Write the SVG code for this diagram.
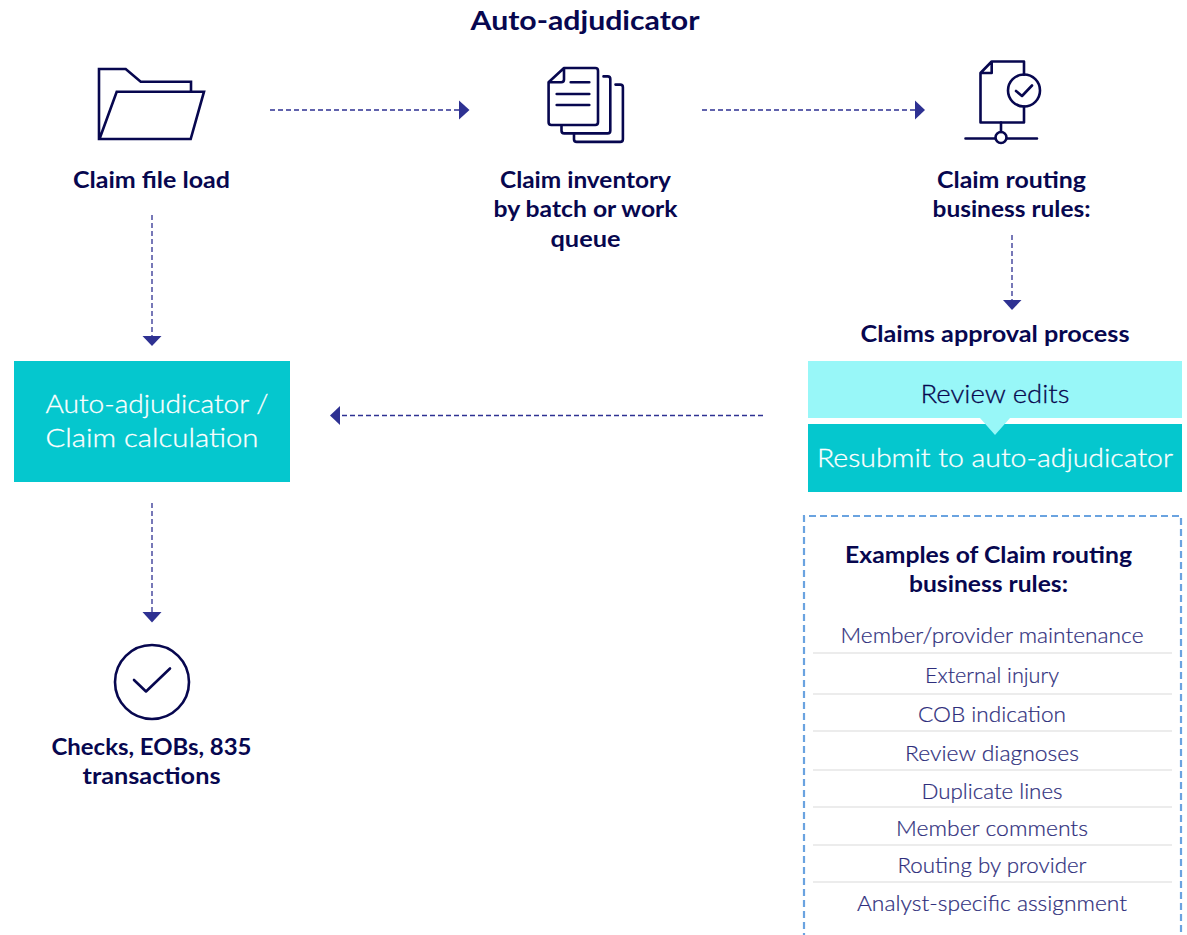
<svg xmlns="http://www.w3.org/2000/svg" width="1187" height="935" viewBox="0 0 1187 935">
<style>
text{font-family:"Lato","Liberation Sans",sans-serif}
.t{font-weight:700;font-size:22px;fill:#07074f;text-anchor:middle}
.b{font-size:26px;font-weight:300;text-anchor:middle;stroke-width:.3px}
.l{font-size:21px;font-weight:300;fill:#2e2e7c;stroke:#2e2e7c;stroke-width:.2px;text-anchor:middle}
.i{fill:none;stroke:#07074f;stroke-width:2.600;stroke-linejoin:round;stroke-linecap:round}
.c{fill:none;stroke:#2e3192;stroke-width:1.300;stroke-dasharray:5 3}
.h{fill:#2e3192}
.s{stroke:#ececec;stroke-width:2}
</style>
<rect width="1187" height="935" fill="#fff"/>
<text id="title" class="t" x="585" y="30" style="font-size:26px" textLength="229" lengthAdjust="spacingAndGlyphs">Auto-adjudicator</text>
<g id="connectors">
<path class="c" d="M270 110H460"/><path class="h" d="M459 100.500L469.500 110L459 119.500Z"/>
<path class="c" d="M702 110H915"/><path class="h" d="M915 100.500L925 110L915 119.500Z"/>
<path class="c" d="M152 215V336"/><path class="h" d="M142.500 336H161.500L152 346Z"/>
<path class="c" d="M1012 235V300"/><path class="h" d="M1003 300H1021.500L1012 310Z"/>
<path class="c" d="M763 415.500H340"/><path class="h" d="M340 406V425L330 415.500Z"/>
<path class="c" d="M152 503V612"/><path class="h" d="M142.500 612H161.500L152 622.500Z"/>
</g>
<g id="node-claim-file-load">
<path class="i" style="stroke-linecap:butt;stroke-linejoin:miter" d="M191 91.700V81.700H140.700L125.700 69H99V139H190.700L204 91.700H116.700L99.500 139"/>
<text class="t" x="151.500" y="188" textLength="157" lengthAdjust="spacingAndGlyphs">Claim file load</text>
</g>
<g id="node-claim-inventory">
<path class="i" d="M564 68H595.300Q598 68 598 70.700V122.300Q598 125 595.300 125H551.300Q548.600 125 548.600 122.300V82.200ZM564 68V79.500Q564 82.200 561.300 82.200H548.600M570.700 82.200H589.300M556.700 94H589.300M556.700 105H589.300"/>
<path class="i" d="M603.500 76.400H607.600Q610.300 76.400 610.300 79.100V130.700Q610.300 133.400 607.600 133.400H564.200Q561.500 133.400 561.500 130.700V125.500"/>
<path class="i" d="M615.500 84.600H620.200Q622.900 84.600 622.900 87.300V139.200Q622.900 141.900 620.200 141.900H576.700Q574 141.900 574 139.200V134"/>
<text class="t" x="585.500" y="188" textLength="171" lengthAdjust="spacingAndGlyphs">Claim inventory</text>
<text class="t" x="585.500" y="217" textLength="184" lengthAdjust="spacingAndGlyphs">by batch or work</text>
<text class="t" x="585.500" y="247" textLength="70" lengthAdjust="spacingAndGlyphs">queue</text>
</g>
<g id="node-claim-routing">
<path class="i" d="M1024 74.700V61.500H991.700L980.500 73V122.500H1024V106.500M991.700 61.500V73H980.500"/>
<circle class="i" cx="1024" cy="90.500" r="16"/>
<path class="i" d="M1016 91L1022 96L1032 85.500"/>
<path class="i" d="M1001 122.500V132M965.500 138.500H995.500M1006.500 138.500H1037"/>
<circle class="i" cx="1001" cy="137.500" r="5.500"/>
<text class="t" x="1011.500" y="188" textLength="149" lengthAdjust="spacingAndGlyphs">Claim routing</text>
<text class="t" x="1011.500" y="217" textLength="158" lengthAdjust="spacingAndGlyphs">business rules:</text>
</g>
<g id="node-claims-approval">
<text class="t" x="995" y="342" textLength="269" lengthAdjust="spacingAndGlyphs">Claims approval process</text>
<rect x="808" y="424" width="374" height="68" fill="#05c7ce"/>
<rect x="808" y="361" width="374" height="57" fill="#98f7f8"/>
<path d="M980 418H1010L995 435Z" fill="#98f7f8"/>
<text class="b" x="995" y="403" fill="#07074f" stroke="#07074f" textLength="149" lengthAdjust="spacingAndGlyphs">Review edits</text>
<text class="b" x="995" y="467" fill="#fff" stroke="#fff" textLength="356" lengthAdjust="spacingAndGlyphs">Resubmit to auto-adjudicator</text>
</g>
<g id="node-auto-adjudicator">
<rect x="14" y="361" width="276" height="121" fill="#05c7ce"/>
<text class="b" x="45.500" y="413" fill="#fff" stroke="#fff" style="text-anchor:start" textLength="223" lengthAdjust="spacingAndGlyphs">Auto-adjudicator /</text>
<text class="b" x="45.500" y="447" fill="#fff" stroke="#fff" style="text-anchor:start" textLength="213" lengthAdjust="spacingAndGlyphs">Claim calculation</text>
</g>
<g id="node-checks">
<circle class="i" cx="152" cy="682" r="37"/>
<path class="i" d="M134 680L146 691.500L170 668.500"/>
<text class="t" x="151.500" y="755" textLength="200" lengthAdjust="spacingAndGlyphs">Checks, EOBs, 835</text>
<text class="t" x="151.500" y="784" textLength="138" lengthAdjust="spacingAndGlyphs">transactions</text>
</g>
<g id="node-examples">
<path d="M804 940V516H1181V940" fill="none" stroke="#6aa3e0" stroke-width="2.200" stroke-dasharray="7 4"/>
<text class="t" x="988.500" y="563" textLength="287" lengthAdjust="spacingAndGlyphs">Examples of Claim routing</text>
<text class="t" x="988.500" y="592" textLength="159" lengthAdjust="spacingAndGlyphs">business rules:</text>
<path class="s" d="M813 653H1172M813 694H1172M813 731H1172M813 770H1172M813 807H1172M813 845H1172M813 882H1172"/>
<text class="l" x="992" y="643" textLength="303" lengthAdjust="spacingAndGlyphs">Member/provider maintenance</text>
<text class="l" x="992" y="683" textLength="134" lengthAdjust="spacingAndGlyphs">External injury</text>
<text class="l" x="992" y="722" textLength="148" lengthAdjust="spacingAndGlyphs">COB indication</text>
<text class="l" x="992" y="761" textLength="174" lengthAdjust="spacingAndGlyphs">Review diagnoses</text>
<text class="l" x="992" y="799" textLength="141" lengthAdjust="spacingAndGlyphs">Duplicate lines</text>
<text class="l" x="992" y="836" textLength="192" lengthAdjust="spacingAndGlyphs">Member comments</text>
<text class="l" x="992" y="873" textLength="189" lengthAdjust="spacingAndGlyphs">Routing by provider</text>
<text class="l" x="992" y="911" textLength="270" lengthAdjust="spacingAndGlyphs">Analyst-specific assignment</text>
</g>
</svg>
